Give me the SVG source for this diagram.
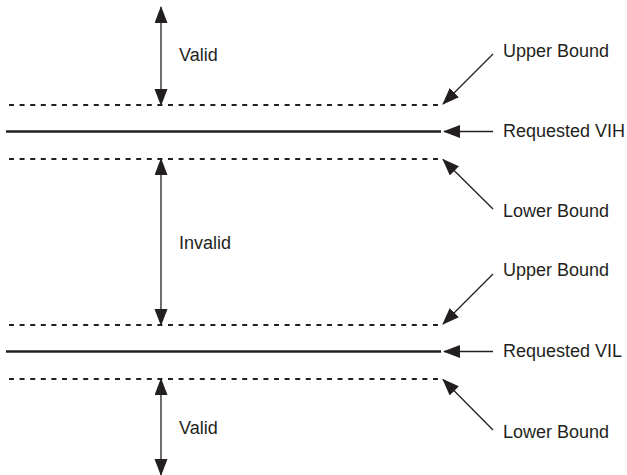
<svg xmlns="http://www.w3.org/2000/svg" width="627" height="475" viewBox="0 0 627 475">
<style>
.lbl{font-family:"Liberation Sans",Arial,sans-serif;font-size:18px;fill:#231f20}
.dash{stroke:#231f20;stroke-width:2;stroke-dasharray:5 5.6;fill:none}
.solid{stroke:#231f20;stroke-width:2.6;fill:none}
.arr{stroke:#231f20;stroke-width:1.3;fill:none;marker-end:url(#ah)}
.darr{stroke:#231f20;stroke-width:1.3;fill:none;marker-end:url(#ah);marker-start:url(#ah)}
</style>
<defs>
<marker id="ah" markerUnits="userSpaceOnUse" markerWidth="18" markerHeight="14" refX="16" refY="6.5" orient="auto-start-reverse" viewBox="0 0 18 14">
<path d="M0,0 L17,6.5 L0,13 z" fill="#231f20"/>
</marker>
</defs>
<g id="levels">
<line id="ub-vih" class="dash" x1="9" y1="105" x2="441" y2="105"/>
<line id="vih" class="solid" x1="6" y1="131.5" x2="441" y2="131.5"/>
<line id="lb-vih" class="dash" x1="9" y1="159" x2="441" y2="159"/>
<line id="ub-vil" class="dash" x1="9" y1="325" x2="441" y2="325"/>
<line id="vil" class="solid" x1="6" y1="351.5" x2="441" y2="351.5"/>
<line id="lb-vil" class="dash" x1="9" y1="379" x2="441" y2="379"/>
</g>
<g id="connectors">
<line class="darr" x1="161" y1="7" x2="161" y2="105"/>
<line class="darr" x1="161" y1="159" x2="161" y2="325"/>
<line class="darr" x1="161" y1="379" x2="161" y2="475"/>
<line class="arr" x1="493" y1="54" x2="443" y2="104"/>
<line class="arr" x1="493" y1="131.5" x2="444" y2="131.5"/>
<line class="arr" x1="493" y1="209" x2="443" y2="159.5"/>
<line class="arr" x1="493" y1="274" x2="443" y2="324"/>
<line class="arr" x1="493" y1="351.5" x2="444" y2="351.5"/>
<line class="arr" x1="493" y1="430" x2="443" y2="379.5"/>
</g>
<g id="n-valid-top"><text class="lbl" x="179" y="61">Valid</text></g>
<g id="n-invalid"><text class="lbl" x="179" y="249">Invalid</text></g>
<g id="n-valid-bottom"><text class="lbl" x="179" y="434">Valid</text></g>
<g id="n-ub1"><text class="lbl" x="503" y="57">Upper Bound</text></g>
<g id="n-vih"><text class="lbl" x="503" y="137">Requested VIH</text></g>
<g id="n-lb1"><text class="lbl" x="503" y="217">Lower Bound</text></g>
<g id="n-ub2"><text class="lbl" x="503" y="276">Upper Bound</text></g>
<g id="n-vil"><text class="lbl" x="503" y="357">Requested VIL</text></g>
<g id="n-lb2"><text class="lbl" x="503" y="438">Lower Bound</text></g>
</svg>
